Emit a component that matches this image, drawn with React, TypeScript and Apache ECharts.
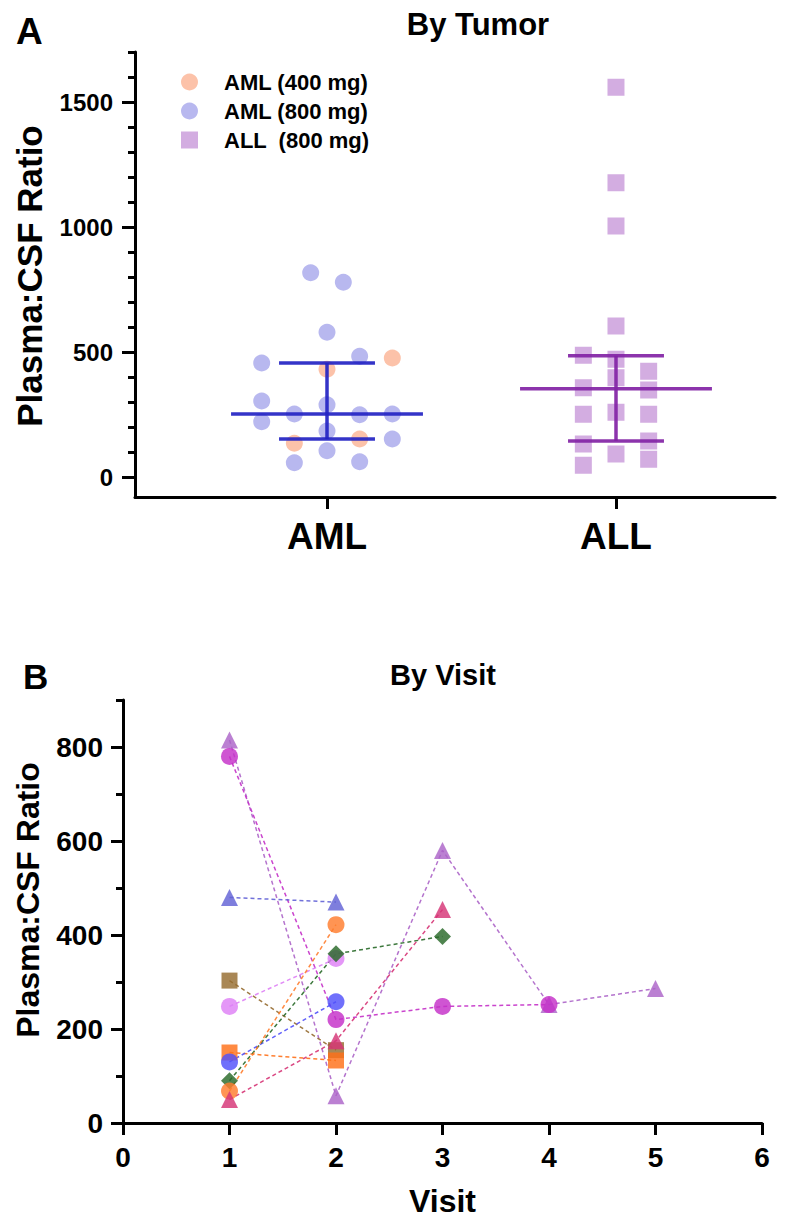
import React, { useEffect, useRef } from 'react';
import * as echarts from 'echarts';

const FONT = '"Liberation Sans", Arial, sans-serif';

// ---------- Panel A: By Tumor ----------
const tumorCategories = ['AML', 'ALL'];
// [jitter slot, ratio]
const aml400: [number, number][] = [[2, 476], [0, 431], [-1, 135], [1, 152]];
const aml800: [number, number][] = [
  [-0.5, 817], [0.5, 779], [0, 579], [-2, 456], [1, 483], [-2, 304], [-2, 221], [-1, 252],
  [0, 289], [1, 249], [2, 252], [0, 184], [2, 152], [0, 105], [-1, 57], [1, 61],
];
const all800: [number, number][] = [
  [0, 1559], [0, 1177], [0, 1004], [0, 604], [-1, 487], [0, 471], [0, 397], [1, 423], [-1, 357],
  [1, 348], [-1, 251], [0, 259], [1, 251], [-1, 132], [1, 144], [0, 92], [-1, 47], [1, 71],
];
const tumorMedian = [252, 353];
const tumorLower = [152, 144];
const tumorUpper = [456, 485];
const tumorYLabels = [0, 500, 1000, 1500];
const tumorYMinor = [0, 100, 200, 300, 400, 500, 600, 700, 800, 900, 1000, 1100, 1200, 1300, 1400, 1500, 1600, 1700];

// ---------- Panel B: By Visit ----------
const visitTicks = [0, 1, 2, 3, 4, 5, 6];
const visitYLabels = [0, 200, 400, 600, 800];
const visitYMinor = [0, 100, 200, 300, 400, 500, 600, 700, 800, 900];
// values at visits 1, 2, 3, ...
const subj1 = [815, 58, 580, 252, 286];
const subj2 = [780, 220, 248, 252];
const subj3 = [480, 470];
const subj4 = [303, 155];
const subj5 = [248, 350];
const subj6 = [150, 133];
const subj7 = [130, 258];
const subj8 = [90, 360, 397];
const subj9 = [68, 422];
const subj10 = [50, 175, 454];
const subjects = [subj1, subj2, subj3, subj4, subj5, subj6, subj7, subj8, subj9, subj10];

const subjStyles = [
  { symbol: 'triangle', size: 17, color: 'rgb(172,100,200)' },
  { symbol: 'circle', size: 17, color: 'rgb(196,48,200)' },
  { symbol: 'triangle', size: 17, color: 'rgb(98,98,214)' },
  { symbol: 'rect', size: 16, color: 'rgb(150,108,48)' },
  { symbol: 'circle', size: 17, color: 'rgb(222,128,245)' },
  { symbol: 'rect', size: 16, color: 'rgb(255,112,24)' },
  { symbol: 'circle', size: 17, color: 'rgb(80,80,250)' },
  { symbol: 'diamond', size: 17, color: 'rgb(40,105,40)' },
  { symbol: 'circle', size: 17, color: 'rgb(255,125,45)' },
  { symbol: 'triangle', size: 17, color: 'rgb(214,52,118)' },
];

const JIT = 0.113;
const barColors = ['rgba(35,35,195,0.92)', 'rgba(130,35,165,0.92)'];

const axisText = (size: number) => ({
  fontSize: size,
  fontWeight: 'bold' as const,
  fontFamily: FONT,
  color: '#000',
});

export default function App() {
  const ref = useRef<HTMLDivElement>(null);
  useEffect(() => {
    if (!ref.current) return;
    const chart = echarts.init(ref.current, null, { renderer: 'svg' });

    const txt = (text: string, x: number, y: number, size: number, align: string, rotation = 0) => ({
      type: 'text',
      x,
      y,
      rotation,
      style: {
        text,
        fill: '#000',
        fontSize: size,
        fontWeight: 'bold',
        fontFamily: FONT,
        textAlign: align,
        align,
        textVerticalAlign: 'middle',
        verticalAlign: 'middle',
      },
    });

    const plain = (v: number) => String(v);

    const option: any = {
      animation: false,
      backgroundColor: '#fff',
      graphic: [
        txt('A', 16, 31, 37, 'left'),
        txt('By Tumor', 478, 24, 31, 'center'),
        txt('Plasma:CSF Ratio', 29, 276, 35, 'center', Math.PI / 2),
        txt('B', 23, 676, 35, 'left'),
        txt('By Visit', 443, 675, 29, 'center'),
        txt('Plasma:CSF Ratio', 28, 900, 32, 'center', Math.PI / 2),
      ],
      legend: {
        orient: 'vertical',
        left: 176,
        top: 66,
        itemWidth: 17,
        itemHeight: 17,
        itemGap: 7,
        selectedMode: false,
        data: [
          { name: 'AML (400 mg)', icon: 'circle' },
          { name: 'AML (800 mg)', icon: 'circle' },
          { name: 'ALL  (800 mg)', icon: 'rect' },
        ],
        textStyle: { ...axisText(22), padding: [0, 0, 0, 21] },
      },
      grid: [
        { left: 135, top: 52, width: 640, height: 445, outerBoundsMode: 'none' },
        { left: 123, top: 700, width: 639, height: 423, outerBoundsMode: 'none' },
      ],
      xAxis: [
        {
          gridIndex: 0,
          type: 'value',
          min: 0.3356,
          max: 2.5502,
          axisLine: { show: true, onZero: false, lineStyle: { color: '#000', width: 3 } },
          axisTick: { show: true, customValues: [1, 2], length: 12, lineStyle: { color: '#000', width: 3 } },
          axisLabel: {
            customValues: [1, 2],
            formatter: (v: number) => tumorCategories[Math.round(v) - 1] || '',
            margin: 21,
            ...axisText(37),
          },
          splitLine: { show: false },
        },
        {
          gridIndex: 1,
          type: 'value',
          min: 0,
          max: 6,
          axisLine: { show: true, onZero: false, lineStyle: { color: '#000', width: 3 } },
          axisTick: { show: true, customValues: visitTicks, length: 12, lineStyle: { color: '#000', width: 3 } },
          axisLabel: { customValues: visitTicks, formatter: plain, margin: 20, ...axisText(28) },
          splitLine: { show: false },
          name: 'Visit',
          nameLocation: 'middle',
          nameGap: 62,
          nameTextStyle: axisText(32),
        },
      ],
      yAxis: [
        {
          gridIndex: 0,
          type: 'value',
          position: 'left',
          min: -80,
          max: 1700,
          axisLine: { show: true, onZero: false, lineStyle: { color: '#000', width: 3 } },
          axisTick: { show: true, customValues: tumorYLabels, length: 13, lineStyle: { color: '#000', width: 3 } },
          axisLabel: { customValues: tumorYLabels, formatter: plain, margin: 22, ...axisText(24) },
          splitLine: { show: false },
        },
        {
          gridIndex: 0,
          type: 'value',
          position: 'left',
          min: -80,
          max: 1700,
          axisLine: { show: false, onZero: false },
          axisTick: { show: true, customValues: tumorYMinor, length: 7, lineStyle: { color: '#000', width: 3 } },
          axisLabel: { show: false },
          splitLine: { show: false },
        },
        {
          gridIndex: 1,
          type: 'value',
          position: 'left',
          min: 0,
          max: 900,
          axisLine: { show: true, onZero: false, lineStyle: { color: '#000', width: 3 } },
          axisTick: { show: true, customValues: visitYLabels, length: 12, lineStyle: { color: '#000', width: 3 } },
          axisLabel: { customValues: visitYLabels, formatter: plain, margin: 20, ...axisText(28) },
          splitLine: { show: false },
        },
        {
          gridIndex: 1,
          type: 'value',
          position: 'left',
          min: 0,
          max: 900,
          axisLine: { show: false, onZero: false },
          axisTick: { show: true, customValues: visitYMinor, length: 7, lineStyle: { color: '#000', width: 3 } },
          axisLabel: { show: false },
          splitLine: { show: false },
        },
      ],
      series: [
        {
          name: 'AML (800 mg)',
          type: 'scatter',
          xAxisIndex: 0,
          yAxisIndex: 0,
          symbol: 'circle',
          symbolSize: 17,
          itemStyle: { color: 'rgba(112,112,222,0.62)' },
          data: aml800.map(([s, v]) => [1 + s * JIT, v]),
        },
        {
          name: 'AML (400 mg)',
          type: 'scatter',
          xAxisIndex: 0,
          yAxisIndex: 0,
          symbol: 'circle',
          symbolSize: 17,
          itemStyle: { color: 'rgba(250,140,92,0.66)' },
          data: aml400.map(([s, v]) => [1 + s * JIT, v]),
        },
        {
          name: 'ALL  (800 mg)',
          type: 'scatter',
          xAxisIndex: 0,
          yAxisIndex: 0,
          symbol: 'rect',
          symbolSize: 17,
          itemStyle: { color: 'rgba(176,108,202,0.7)' },
          data: all800.map(([s, v]) => [2 + s * JIT, v]),
        },
        {
          name: 'summary',
          type: 'custom',
          xAxisIndex: 0,
          yAxisIndex: 0,
          z: 10,
          data: tumorMedian.map((m, i) => [i + 1, m, tumorLower[i], tumorUpper[i]]),
          renderItem: (params: any, api: any) => {
            const x = api.value(0);
            const med = api.value(1);
            const lo = api.value(2);
            const hi = api.value(3);
            const color = barColors[params.dataIndex];
            const p = (xx: number, yy: number) => api.coord([xx, yy]);
            const seg = (a: number[], b: number[]) => ({
              type: 'line',
              shape: { x1: a[0], y1: a[1], x2: b[0], y2: b[1] },
              style: { stroke: color, lineWidth: 3.5 },
            });
            return {
              type: 'group',
              children: [
                seg(p(x - 0.332, med), p(x + 0.332, med)),
                seg(p(x - 0.166, hi), p(x + 0.166, hi)),
                seg(p(x - 0.166, lo), p(x + 0.166, lo)),
                seg(p(x, lo), p(x, hi)),
              ],
            };
          },
        },
        ...subjects.map((vals, k) => ({
          name: 'Subject ' + (k + 1),
          type: 'line',
          xAxisIndex: 1,
          yAxisIndex: 2,
          symbol: subjStyles[k].symbol,
          symbolSize: subjStyles[k].size,
          showSymbol: true,
          itemStyle: { color: subjStyles[k].color, opacity: 0.82 },
          lineStyle: { color: subjStyles[k].color, width: 1.5, type: [4, 3], opacity: 0.9 },
          data: vals.map((v, i) => [i + 1, v]),
        })),
      ],
    };
    chart.setOption(option);
    return () => chart.dispose();
  }, []);
  return (
    <div
      ref={ref}
      style={{ position: 'absolute', left: 0, top: 0, width: 799, height: 1220 }}
    />
  );
}
